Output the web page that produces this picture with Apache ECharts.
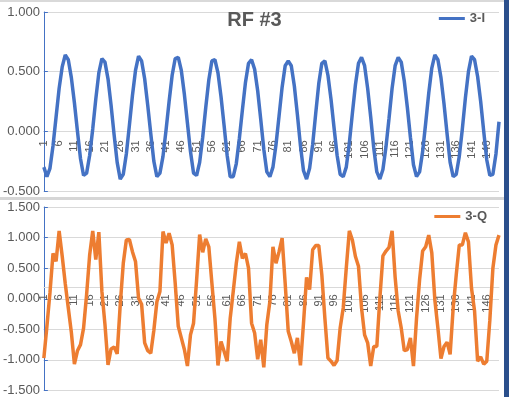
<!DOCTYPE html>
<html>
<head>
<meta charset="utf-8">
<script src="https://cdn.jsdelivr.net/npm/echarts@6/dist/echarts.min.js"></script>
<style>
html, body { margin: 0; padding: 0; background: #fff; }
#main { width: 509px; height: 397px; }
</style>
</head>
<body>
<div id="main"></div>
<script>
// sample numbers 1..150
var samples = [];
for (var n = 1; n <= 150; n++) samples.push(String(n));

// 3-I (top panel)
var seriesI = [
  -0.30, -0.38, -0.31, -0.12, 0.12, 0.36, 0.54, 0.64, 0.60, 0.45,
  0.24, 0.00, -0.23, -0.37, -0.35, -0.20, 0.02, 0.27, 0.49, 0.61,
  0.58, 0.44, 0.22, -0.03, -0.26, -0.40, -0.36, -0.19, 0.05, 0.30,
  0.51, 0.63, 0.59, 0.44, 0.22, -0.02, -0.25, -0.38, -0.35, -0.21,
  0.01, 0.25, 0.47, 0.61, 0.62, 0.51, 0.31, 0.07, -0.17, -0.35,
  -0.37, -0.26, -0.05, 0.20, 0.43, 0.59, 0.60, 0.49, 0.29, 0.05,
  -0.20, -0.38, -0.38, -0.27, -0.06, 0.18, 0.41, 0.57, 0.60, 0.52,
  0.34, 0.10, -0.15, -0.34, -0.38, -0.30, -0.11, 0.13, 0.37, 0.55,
  0.59, 0.55, 0.38, 0.14, -0.12, -0.33, -0.40, -0.31, -0.11, 0.15,
  0.40, 0.57, 0.59, 0.47, 0.27, 0.03, -0.20, -0.36, -0.38, -0.30,
  -0.10, 0.15, 0.39, 0.57, 0.62, 0.55, 0.36, 0.12, -0.14, -0.34,
  -0.40, -0.32, -0.13, 0.11, 0.36, 0.55, 0.62, 0.58, 0.42, 0.20,
  -0.05, -0.28, -0.38, -0.34, -0.17, 0.07, 0.32, 0.53, 0.64, 0.60,
  0.45, 0.23, -0.02, -0.26, -0.38, -0.36, -0.21, 0.02, 0.28, 0.50,
  0.63, 0.60, 0.46, 0.25, 0.00, -0.24, -0.37, -0.36, -0.19, 0.08
];

// 3-Q (bottom panel)
var seriesQ = [
  -0.97, -0.45, 0.10, 0.74, 0.61, 1.11, 0.70, 0.25, -0.15, -0.55,
  -1.07, -0.85, -0.75, -0.48, 0.07, 0.72, 1.11, 0.64, 1.09, 0.12,
  -0.42, -1.08, -0.82, -0.79, -0.90, -0.10, 0.58, 0.96, 0.97, 0.77,
  0.61, 0.01, -0.09, -0.72, -0.85, -0.89, -0.52, -0.05, 0.12, 1.10,
  0.91, 1.07, 0.88, 0.25, -0.45, -0.64, -0.83, -1.10, -0.59, -0.40,
  0.30, 1.05, 0.76, 0.98, 0.85, 0.26, -0.32, -1.09, -0.70, -0.86,
  -1.02, -0.32, 0.12, 0.58, 0.93, 0.66, 0.74, 0.50, -0.40, -0.56,
  -0.99, -0.67, -1.12, -0.42, -0.04, 0.85, 0.58, 0.77, 0.99, 0.25,
  -0.53, -0.70, -0.89, -0.64, -1.09, -0.40, 0.35, 0.15, 0.80, 0.87,
  0.87, 0.39, -0.32, -0.97, -1.02, -1.09, -1.01, -0.48, -0.15, 0.50,
  1.11, 0.96, 0.69, 0.53, -0.15, -0.59, -0.72, -1.10, -0.78, -0.78,
  0.01, 0.70, 0.78, 0.84, 1.11, 0.35, -0.20, -0.48, -0.85, -0.83,
  -0.64, -1.10, -0.32, 0.31, 0.78, 0.85, 1.04, 0.75, -0.02, -0.48,
  -0.98, -0.78, -0.71, -0.91, -0.15, 0.39, 0.88, 0.88, 1.08, 0.93,
  0.17, -0.20, -1.02, -0.95, -1.07, -1.02, -0.35, 0.50, 0.88, 1.04
];

var textColor = '#595959';
var gridColor = '#d9d9d9';
var fontName = 'Liberation Sans';

var grids = [
    { left: 43, right: 10, top: 12, height: 179 },
    { left: 43, right: 10, top: 207, height: 184 }
];

function xAxisFor(gridIndex, margin) {
    return {
        type: 'category',
        gridIndex: gridIndex,
        data: samples,
        boundaryGap: false,
        position: 'bottom',
        offset: 0,
        axisLine: { onZero: false, lineStyle: { color: gridColor } },
        axisTick: { show: false },
        axisLabel: {
            interval: 4,
            rotate: 90,
            margin: margin,
            color: textColor,
            fontSize: 11,
            fontFamily: fontName
        }
    };
}

function yAxisFor(gridIndex, min, max) {
    return {
        type: 'value',
        gridIndex: gridIndex,
        min: min,
        max: max,
        interval: 0.5,
        axisLine: { show: true, lineStyle: { color: '#4472c4', width: 1 } },
        axisTick: { show: true, inside: true, length: 4, lineStyle: { color: '#4472c4' } },
        splitLine: { lineStyle: { color: gridColor } },
        axisLabel: {
            margin: 4,
            color: textColor,
            fontSize: 13,
            fontFamily: fontName,
            formatter: function (v) { return v.toFixed(3); }
        }
    };
}

var myChart = echarts.init(document.getElementById('main'), null, {renderer: 'canvas'});

option = {
    animation: false,
    backgroundColor: '#fff',
    title: {
        text: 'RF #3',
        left: 'center',
        top: 5,
        textStyle: { color: textColor, fontSize: 20, fontWeight: 'bold', fontFamily: fontName }
    },
    legend: [
        {
            data: ['3-I'],
            right: 19,
            top: 7,
            icon: 'rect',
            itemWidth: 26,
            itemHeight: 3,
            itemGap: 3,
            textStyle: { color: textColor, fontSize: 13, fontWeight: 'bold', fontFamily: fontName }
        },
        {
            data: ['3-Q'],
            right: 17,
            top: 205,
            icon: 'rect',
            itemWidth: 26,
            itemHeight: 3,
            itemGap: 3,
            textStyle: { color: textColor, fontSize: 13, fontWeight: 'bold', fontFamily: fontName }
        }
    ],
    grid: grids,
    xAxis: [xAxisFor(0, 9), xAxisFor(1, 7)],
    yAxis: [yAxisFor(0, -0.5, 1.0), yAxisFor(1, -1.5, 1.5)],
    series: [
        {
            name: '3-I',
            type: 'line',
            xAxisIndex: 0,
            yAxisIndex: 0,
            data: seriesI,
            showSymbol: false,
            itemStyle: { color: '#4472c4' },
            lineStyle: { color: '#4472c4', width: 3.5 }
        },
        {
            name: '3-Q',
            type: 'line',
            xAxisIndex: 1,
            yAxisIndex: 1,
            data: seriesQ,
            showSymbol: false,
            itemStyle: { color: '#ed7d31' },
            lineStyle: { color: '#ed7d31', width: 3.5 }
        }
    ],
    // panel borders from the screenshot
    graphic: [
        { type: 'rect', shape: { x: 0, y: 0, width: 505, height: 2 }, style: { fill: '#d9d9d9' } },
        { type: 'rect', shape: { x: 0, y: 197, width: 505, height: 3 }, style: { fill: '#d6d6d6' } },
        { type: 'rect', shape: { x: 504, y: 0, width: 5, height: 397 }, style: { fill: '#2b4f8c' } }
    ]
};

myChart.setOption(option);

// move the category axes up to the zero line (Excel style)
var z0 = myChart.convertToPixel({yAxisIndex: 0}, 0);
var z1 = myChart.convertToPixel({yAxisIndex: 1}, 0);
myChart.setOption({
    xAxis: [
        { offset: z0 - (grids[0].top + grids[0].height) },
        { offset: z1 - (grids[1].top + grids[1].height) }
    ]
});
</script>
</body>
</html>
